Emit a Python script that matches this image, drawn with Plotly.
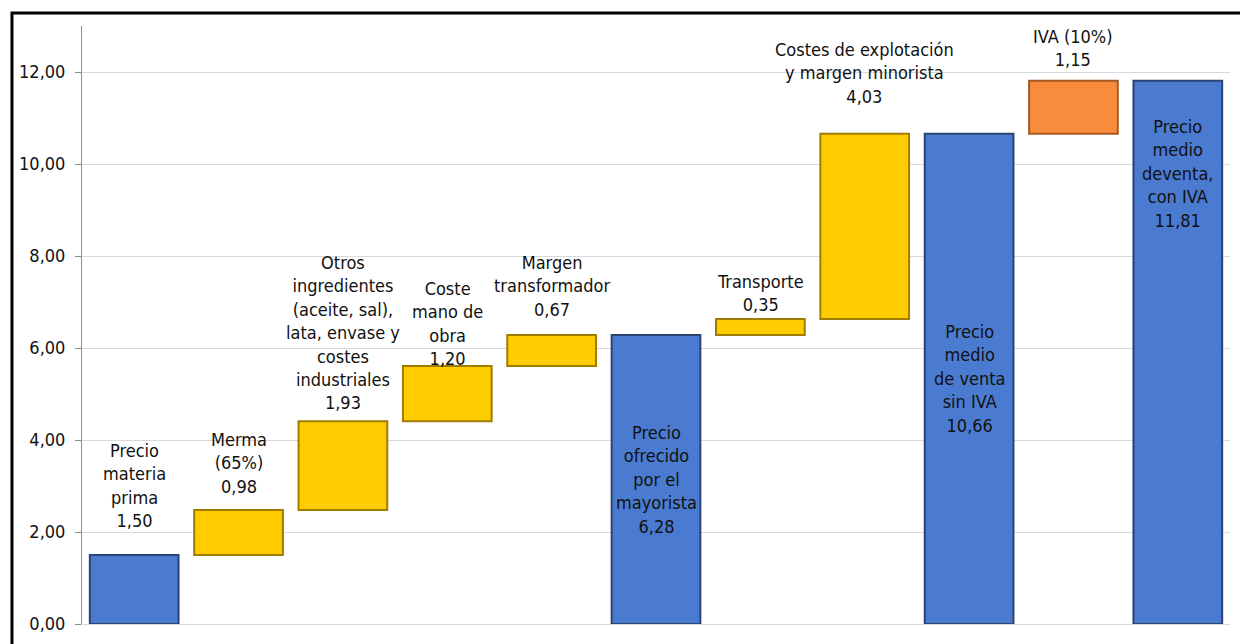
import plotly.graph_objects as go

# ---- data ----
names = [
    "Precio<br>materia<br>prima",
    "Merma<br>(65%)",
    "Otros<br>ingredientes<br>(aceite, sal),<br>lata, envase y<br>costes<br>industriales",
    "Coste<br>mano de<br>obra",
    "Margen<br>transformador",
    "Precio<br>ofrecido<br>por el<br>mayorista",
    "Transporte",
    "Costes de explotación<br>y margen minorista",
    "Precio<br>medio<br>de venta<br>sin IVA",
    "IVA (10%)",
    "Precio<br>medio<br>deventa,<br>con IVA",
]
values = [1.50, 0.98, 1.93, 1.20, 0.67, 6.28, 0.35, 4.03, 10.66, 1.15, 11.81]
kinds = ["total", "step", "step", "step", "step", "total", "step", "step", "total", "tax", "total"]
y_ticks = [0, 2, 4, 6, 8, 10, 12]

# ---- styles ----
fill = {"total": "#4A7BD0", "step": "#FFCC00", "tax": "#F98B3C"}
edge = {"total": "#2A4474", "step": "#A07C00", "tax": "#A45A22"}
# label placement: (mode, pixel shift)
label_pos = [("above", 22), ("above", 11), ("above", 6), ("above", -5), ("above", 13),
             ("middle", 0), ("above", 2), ("above", 25), ("middle", 0), ("above", 9),
             ("top", -33)]

# bases computed from running totals
bases = []
running = 0.0
for v, k in zip(values, kinds):
    if k == "total":
        bases.append(0.0)
        running = v
    else:
        bases.append(running)
        running += v

x = list(range(len(values)))
fig = go.Figure()
fig.add_trace(go.Bar(
    x=x, y=values, base=bases, width=0.85,
    marker=dict(color=[fill[k] for k in kinds],
                line=dict(color=[edge[k] for k in kinds], width=2)),
    hovertext=[n.replace("<br>", " ") for n in names], hoverinfo="text+y",
))

font = dict(family="DejaVu Sans Condensed, DejaVu Sans", size=18, color="#111111")
for i, (n, v, b, k) in enumerate(zip(names, values, bases, kinds)):
    txt = n + "<br>" + f"{v:.2f}".replace(".", ",")
    mode, shift = label_pos[i]
    if mode == "above":
        y, anchor = b + v, "bottom"
    elif mode == "middle":
        y, anchor = b + v / 2, "middle"
    else:
        y, anchor = b + v, "top"
    fig.add_annotation(x=i, y=y, text=txt, showarrow=False, yanchor=anchor,
                       yshift=shift, font=font, align="center")

# outer frame (cropped chart border)
fig.add_shape(type="rect", xref="paper", yref="paper", x0=-0.061, x1=1.2, y0=-0.2, y1=1.0216,
              line=dict(color="black", width=3), layer="above")

fig.update_layout(
    width=1232, height=636,
    margin=dict(l=74, r=10, t=18, b=11),
    paper_bgcolor="white", plot_bgcolor="white",
    separators=",.",
    showlegend=False, bargap=0.15,
    xaxis=dict(range=[-0.5, len(values) - 0.5], showticklabels=False, showgrid=False,
               zeroline=False, showline=True, linecolor="#D9D9D9", linewidth=1, ticks=""),
    yaxis=dict(range=[0, 13], tickvals=y_ticks, tickformat=".2f", showgrid=True,
               gridcolor="#D9D9D9", gridwidth=1, zeroline=False, showline=True,
               linecolor="#8C8C8C", linewidth=1, ticks="outside", ticklen=6,
               tickcolor="#8C8C8C", tickfont=font, ticklabelstandoff=6,
               ticklabeloverflow="allow"),
)

fig.write_html("out.html")
